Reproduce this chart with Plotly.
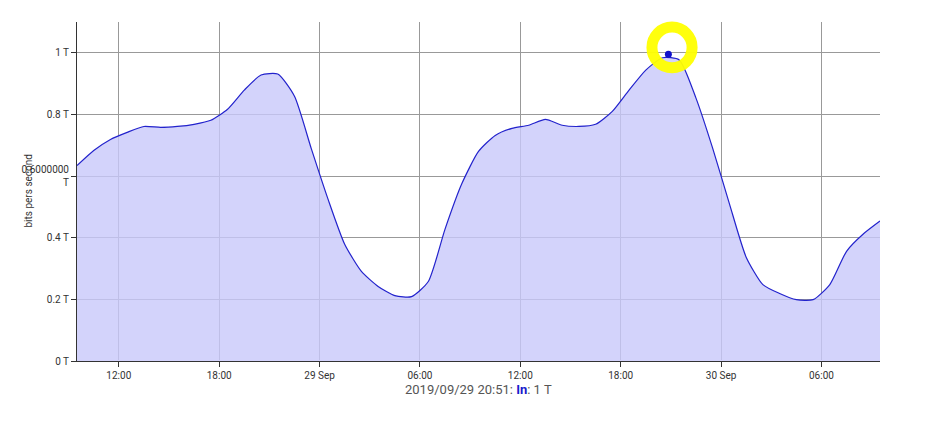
import plotly.graph_objects as go
import pandas as pd

times = pd.date_range("2019-09-28 09:30", "2019-09-30 09:30", freq="h")
values = [0.634,0.683,0.719,0.742,0.761,0.758,0.761,0.768,0.781,0.817,0.879,0.928,0.931,0.859,
          0.690,0.526,0.379,0.291,0.242,0.212,0.209,0.258,0.428,0.575,0.680,0.732,0.755,0.765,
          0.784,0.765,0.761,0.768,0.810,0.879,0.944,0.984,0.977,0.853,0.690,0.510,0.337,0.248,
          0.219,0.199,0.199,0.248,0.356,0.412,0.454]
peak_time = "2019-09-29 20:51"
peak_value = 0.995
tick_vals = [0, 0.2, 0.4, 0.6, 0.8, 1.0]
tick_text = ["0 T", "0.2 T", "0.4 T", "0.6000000<br>T", "0.8 T", "1 T"]
x_ticks = ["2019-09-28 12:00","2019-09-28 18:00","2019-09-29 00:00","2019-09-29 06:00",
           "2019-09-29 12:00","2019-09-29 18:00","2019-09-30 00:00","2019-09-30 06:00"]
x_text = ["12:00","18:00","29 Sep","06:00","12:00","18:00","30 Sep","06:00"]

fig = go.Figure()
fig.add_trace(go.Scatter(x=times, y=values, mode="lines", fill="tozeroy",
                         line=dict(color="#2222cc", width=1.2, shape="spline", smoothing=0.6),
                         fillcolor="rgba(200,200,250,0.8)"))
fig.add_trace(go.Scatter(x=[peak_time], y=[peak_value], mode="markers",
                         marker=dict(color="#1010cc", size=7)))
fig.add_shape(type="circle", xref="paper", yref="paper",
              x0=0.716, x1=0.766, y0=0.865, y1=0.985,
              line=dict(color="rgba(255,255,0,0.95)", width=11))
fig.update_layout(
    width=936, height=426, showlegend=False, plot_bgcolor="white", paper_bgcolor="white",
    margin=dict(l=69, r=64, t=14, b=73),
    font=dict(family="Roboto, Arial", size=10, color="#333"),
    xaxis=dict(range=["2019-09-28 09:30","2019-09-30 09:30"], tickvals=x_ticks, ticktext=x_text,
               showgrid=True, gridcolor="#999", gridwidth=1, showline=True, linecolor="#333",
               ticks="outside", ticklen=5, tickcolor="#333", automargin=False),
    yaxis=dict(range=[0, 1.1], tickvals=tick_vals, ticktext=tick_text, showgrid=True,
               gridcolor="#999", showline=True, linecolor="#333", ticks="outside", ticklen=5,
               tickcolor="#333", automargin=False),
    annotations=[
        dict(xref="paper", yref="paper", x=0.5, y=-0.083, showarrow=False, yanchor="middle",
             text="2019/09/29 20:51: <b><span style='color:#1a1acc'>In</span></b>: 1 T",
             font=dict(size=13, color="#555"), xanchor="center"),
        dict(xref="paper", yref="paper", x=-0.061, y=0.5, showarrow=False, textangle=-90,
             text="bits pers second", font=dict(size=10, color="#333"),
             xanchor="center", yanchor="middle"),
    ],
)
fig.write_html("out.html")
